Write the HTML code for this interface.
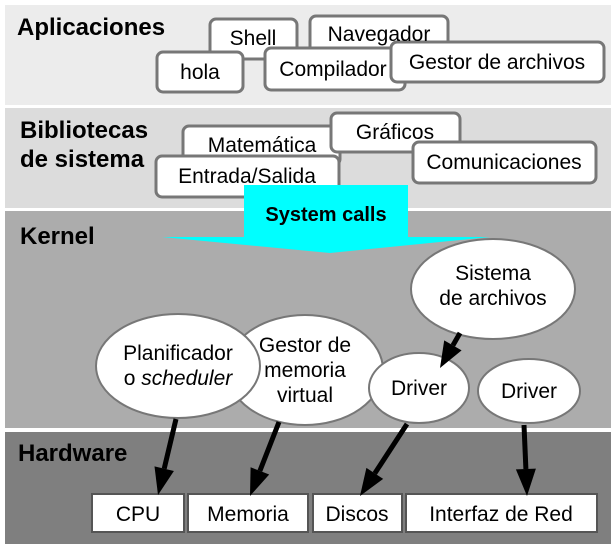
<!DOCTYPE html>
<html><head><meta charset="utf-8"><style>
body{margin:0;background:#fff;}
svg text{font-family:"Liberation Sans","DejaVu Sans",sans-serif;}
</style></head><body>
<svg width="616" height="548" viewBox="0 0 616 548" xmlns="http://www.w3.org/2000/svg">
<rect x="0" y="0" width="616" height="548" fill="#fff"/>
<rect x="5" y="5" width="606" height="100" fill="#ececec"/>
<rect x="5" y="108" width="606" height="100" fill="#dcdcdc"/>
<rect x="5" y="211" width="606" height="217" fill="#acacac"/>
<rect x="5" y="432" width="606" height="112" fill="#7f7f7f"/>
<g font-weight="bold" font-size="24" fill="#000">
<text x="17" y="35">Aplicaciones</text>
<text x="20" y="138">Bibliotecas</text>
<text x="20" y="167">de sistema</text>
<text x="20" y="244">Kernel</text>
<text x="18" y="461">Hardware</text>
</g>
<g fill="#fff" stroke="#777" stroke-width="3">
<rect x="210" y="19" width="87" height="40" rx="6"/>
<rect x="310" y="16" width="138" height="38" rx="6"/>
<rect x="157" y="52" width="86" height="40" rx="6"/>
<rect x="265" y="48" width="140" height="42" rx="6"/>
<rect x="391" y="42" width="213" height="40" rx="6"/>
<rect x="183" y="126" width="157" height="39" rx="6"/>
<rect x="331" y="113" width="129" height="39" rx="6"/>
<rect x="413" y="142" width="183" height="41" rx="6"/>
<rect x="156" y="156" width="183" height="41" rx="6"/>
</g>
<g font-size="21" fill="#000" text-anchor="middle">
<text x="253" y="45">Shell</text>
<text x="379" y="41">Navegador</text>
<text x="200" y="79">hola</text>
<text x="333" y="76">Compilador</text>
<text x="497" y="69">Gestor de archivos</text>
<text x="262" y="152">Matemática</text>
<text x="395" y="139">Gráficos</text>
<text x="504" y="169">Comunicaciones</text>
<text x="247" y="183">Entrada/Salida</text>
</g>
<polygon points="244,185 408,185 408,237 490,237 330,253 162,237 244,237" fill="#00ffff"/>
<text x="326" y="221" font-size="20" font-weight="bold" text-anchor="middle">System calls</text>
<g fill="#fff" stroke="#777" stroke-width="2">
<ellipse cx="493" cy="289" rx="82" ry="50"/>
<ellipse cx="305" cy="370" rx="78" ry="55"/>
<ellipse cx="178" cy="366" rx="82" ry="52"/>
<ellipse cx="419" cy="388" rx="50" ry="35"/>
<ellipse cx="529" cy="391" rx="51" ry="32"/>
</g>
<g font-size="21" fill="#000" text-anchor="middle">
<text x="493" y="280">Sistema</text>
<text x="493" y="305">de archivos</text>
<text x="305" y="352">Gestor de</text>
<text x="305" y="377">memoria</text>
<text x="305" y="402">virtual</text>
<text x="178" y="360">Planificador</text>
<text x="178" y="385">o <tspan font-style="italic">scheduler</tspan></text>
<text x="419" y="395">Driver</text>
<text x="529" y="398">Driver</text>
</g>
<g fill="#fff" stroke="#555" stroke-width="2">
<rect x="92" y="494" width="92" height="38"/>
<rect x="188" y="494" width="120" height="38"/>
<rect x="313" y="494" width="89" height="38"/>
<rect x="406" y="494" width="191" height="38"/>
</g>
<g font-size="21" fill="#000" text-anchor="middle">
<text x="138" y="521">CPU</text>
<text x="248" y="521">Memoria</text>
<text x="357" y="521">Discos</text>
<text x="501" y="521">Interfaz de Red</text>
</g>
<g stroke="#000" stroke-width="5">
<line x1="176" y1="419" x2="164.2" y2="468.7"/>
<line x1="279" y1="422" x2="259.9" y2="470.9"/>
<line x1="407" y1="424" x2="374.8" y2="473.4"/>
<line x1="524" y1="425" x2="525.9" y2="469"/>
<line x1="460" y1="333" x2="452.9" y2="345.4"/>
</g>
<g fill="#000">
<polygon points="158,495 173.9,471 154.5,466.4"/>
<polygon points="250,496 269.2,474.5 250.6,467.3"/>
<polygon points="360,496 383.2,478.9 366.4,467.9"/>
<polygon points="527,496 535.9,468.6 515.9,469.4"/>
<polygon points="440,368 461.6,350.4 444.2,340.4"/>
</g>
</svg>
</body></html>
